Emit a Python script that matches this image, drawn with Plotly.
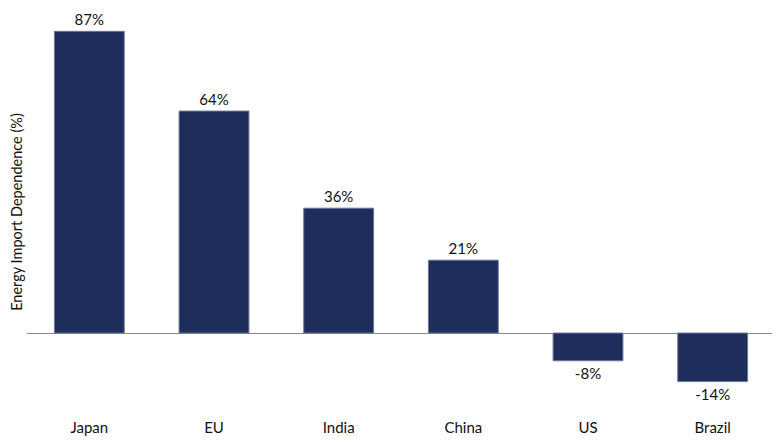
import plotly.graph_objects as go

categories = ["Japan", "EU", "India", "China", "US", "Brazil"]
values = [87, 64, 36, 21, -8, -14]
labels = ["87%", "64%", "36%", "21%", "-8%", "-14%"]

fig = go.Figure(go.Bar(
    x=categories, y=values, text=labels, textposition="outside",
    marker=dict(color="#1f2d5c", line=dict(color="#6b7596", width=1)),
    textfont=dict(size=15, color="#111111"),
    cliponaxis=False,
))
fig.update_layout(
    width=780, height=440,
    margin=dict(l=19, r=13, t=6, b=38),
    paper_bgcolor="white", plot_bgcolor="white",
    bargap=0.44,
    font=dict(family="Lato", size=14, color="#111111"),
    showlegend=False,
)
fig.update_yaxes(range=[-22.2, 92], showgrid=False, showticklabels=False, automargin=False,
                 zeroline=True, zerolinecolor="#888888", zerolinewidth=1.2,
                 title=dict(text="Energy Import Dependence (%)", font=dict(size=14.5), standoff=0))
fig.update_xaxes(showline=False, ticks="", tickfont=dict(size=15), ticklabelstandoff=7,
                 automargin=False)
fig.write_html("out.html")
